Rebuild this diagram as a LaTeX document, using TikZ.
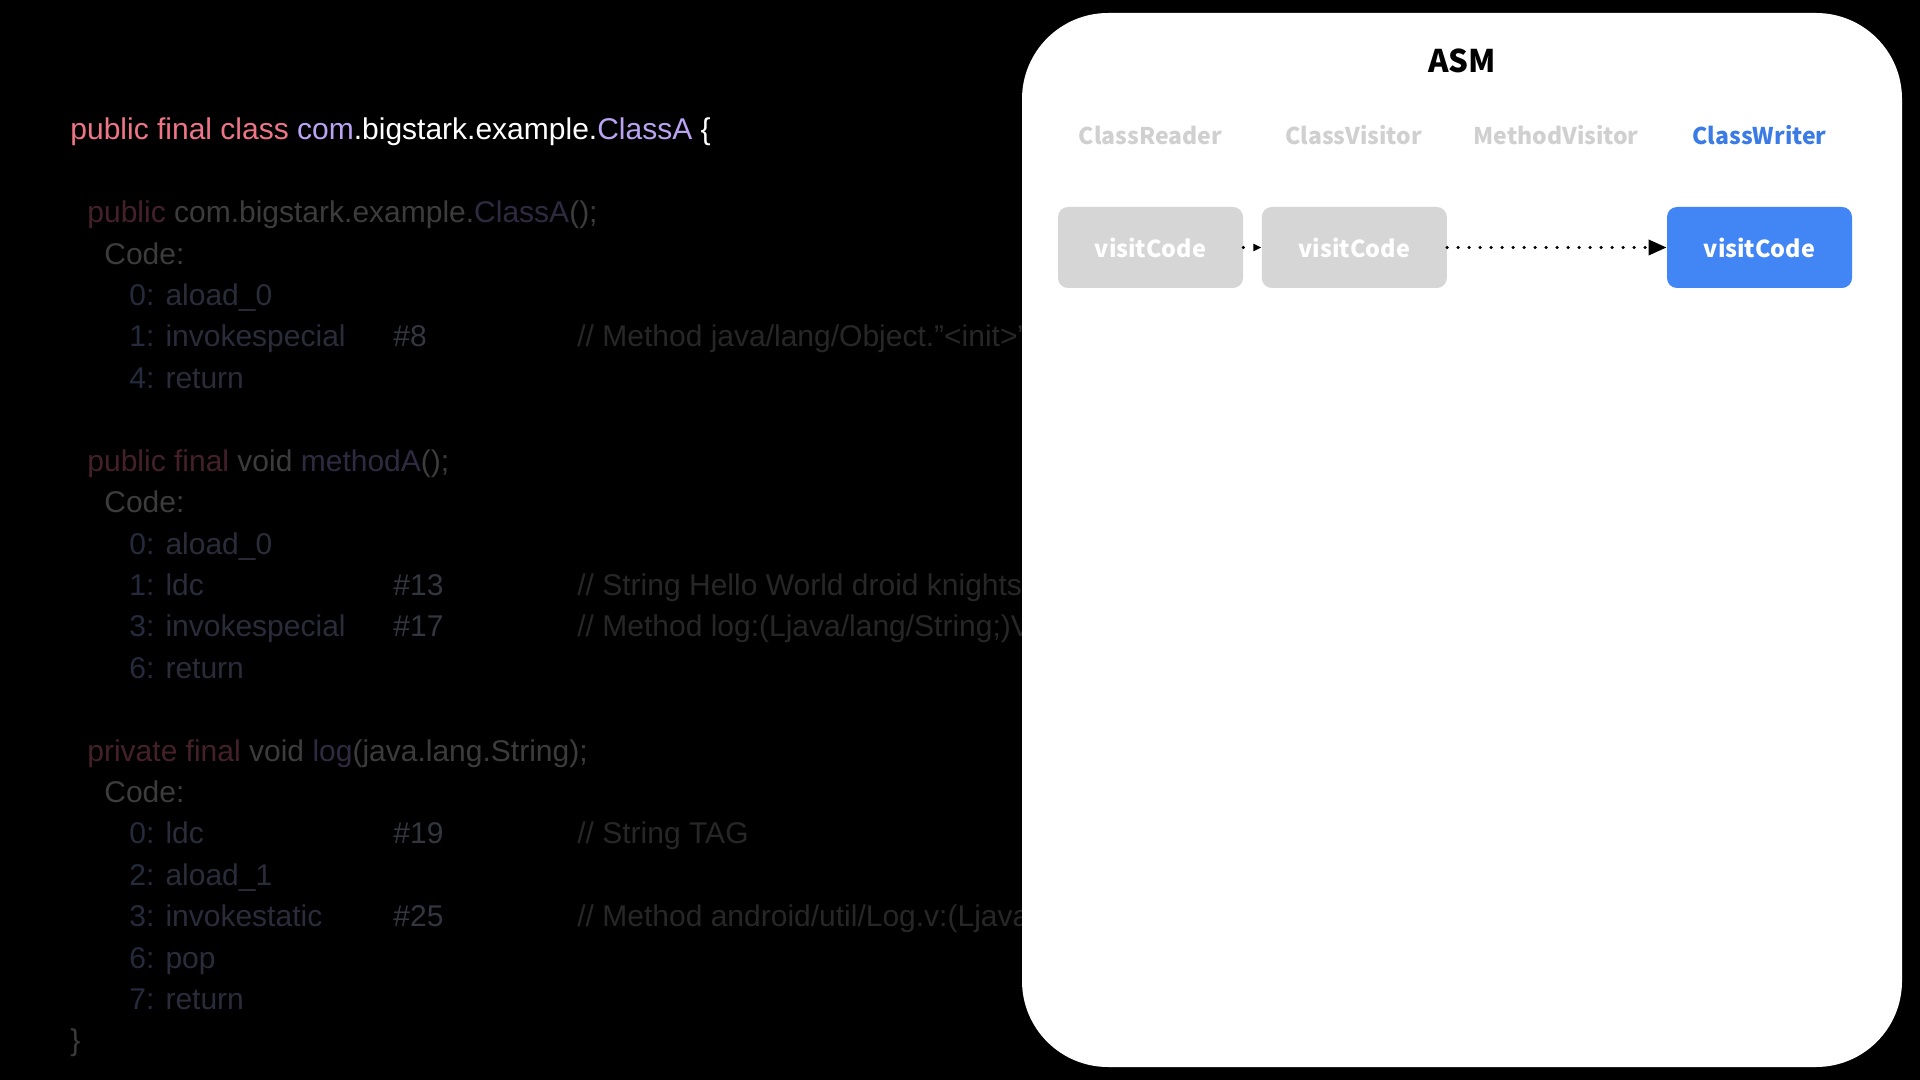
\documentclass[tikz,border=0pt]{standalone}
\usepackage{fontspec}
\setmainfont{Liberation Sans}
\newfontfamily\asmfont{Noto Sans CJK SC}
\usetikzlibrary{positioning,arrows.meta}

\definecolor{kwred}{HTML}{EE7585}
\definecolor{typepurple}{HTML}{B9A3F2}
\definecolor{kwdim}{HTML}{44202A}
\definecolor{txtdim}{HTML}{3C3C3C}
\definecolor{typedim}{HTML}{302A40}
\definecolor{numdim}{HTML}{252B3C}
\definecolor{opdim}{HTML}{2A2C3A}
\definecolor{refdim}{HTML}{33363F}
\definecolor{cmtdim}{HTML}{272727}
\definecolor{boxgray}{HTML}{D6D6D6}
\definecolor{headgray}{HTML}{D0D0D0}
\definecolor{asmblue}{HTML}{4285F4}
\definecolor{headblue}{HTML}{3B7BE6}

\tikzset{
  code/.style={anchor=base west, inner sep=0pt, font=\fontsize{15}{18}\selectfont},
  head/.style={font=\asmfont\bfseries\fontsize{11.5}{14}\selectfont, inner sep=0pt},
  visitbox/.style={fill=boxgray, text=white, rounded corners=5pt,
    minimum width=92.5pt, minimum height=40.5pt, inner sep=0pt,
    font=\asmfont\bfseries\fontsize{11.7}{14}\selectfont},
  dotline/.style={line width=1.75pt, line cap=round, dash pattern=on 0pt off 5.5pt}
}

\begin{document}
\begin{tikzpicture}[x=0.5pt,y=-0.5pt]
	\fill[black] (0,0) rectangle (1920,1080);
	% bytecode listing
	\node[code] (cls) at (70,140) {\color{kwred}public final class \color{typepurple}com\color{white}.bigstark.example.\color{typepurple}ClassA \color{white}\{};
	\node[code] (ctor) at (87,222.8) {\color{kwdim}public \color{txtdim}com.bigstark.example.\color{typedim}ClassA\color{txtdim}();};
	\node[code,text=txtdim] (ctorcode) at (104,264.2) {Code:};
	\node[code] (c0) at (129,305.6) {\color{numdim}0: \color{opdim}aload\_0};
	\node[code] (c1) at (129,347) {\color{numdim}1: \color{opdim}invokespecial};
	\node[code,text=refdim] (c1ref) at (393,347) {\#8};
	\node[code,text=cmtdim] (c1cmt) at (577,347) {// Method java/lang/Object."<init>":()V};
	\node[code] (c4) at (129,388.4) {\color{numdim}4: \color{opdim}return};

	\node[code] (ma) at (87,471.2) {\color{kwdim}public final \color{txtdim}void \color{typedim}methodA\color{txtdim}();};
	\node[code,text=txtdim] (macode) at (104,512.6) {Code:};
	\node[code] (m0) at (129,554) {\color{numdim}0: \color{opdim}aload\_0};
	\node[code] (m1) at (129,595.4) {\color{numdim}1: \color{opdim}ldc};
	\node[code,text=refdim] (m1ref) at (393,595.4) {\#13};
	\node[code,text=cmtdim] (m1cmt) at (577,595.4) {// String Hello World droid knights};
	\node[code] (m3) at (129,636.8) {\color{numdim}3: \color{opdim}invokespecial};
	\node[code,text=refdim] (m3ref) at (393,636.8) {\#17};
	\node[code,text=cmtdim] (m3cmt) at (577,636.8) {// Method log:(Ljava/lang/String;)V};
	\node[code] (m6) at (129,678.2) {\color{numdim}6: \color{opdim}return};

	\node[code] (lg) at (87,761) {\color{kwdim}private final \color{txtdim}void \color{typedim}log\color{txtdim}(java.lang.String);};
	\node[code,text=txtdim] (lgcode) at (104,802.4) {Code:};
	\node[code] (l0) at (129,843.8) {\color{numdim}0: \color{opdim}ldc};
	\node[code,text=refdim] (l0ref) at (393,843.8) {\#19};
	\node[code,text=cmtdim] (l0cmt) at (577,843.8) {// String TAG};
	\node[code] (l2) at (129,885.2) {\color{numdim}2: \color{opdim}aload\_1};
	\node[code] (l3) at (129,926.6) {\color{numdim}3: \color{opdim}invokestatic};
	\node[code,text=refdim] (l3ref) at (393,926.6) {\#25};
	\node[code,text=cmtdim] (l3cmt) at (577,926.6) {// Method android/util/Log.v:(Ljava/lang/String;)I};
	\node[code] (l6) at (129,968) {\color{numdim}6: \color{opdim}pop};
	\node[code] (l7) at (129,1009.4) {\color{numdim}7: \color{opdim}return};
	\node[code,text=txtdim] (close) at (70,1050.8) {\}};

	% ASM panel
	\fill[white, rounded corners=43pt] (1022,13) rectangle (1902,1067);
	\node[font=\asmfont\bfseries\fontsize{15.6}{18}\selectfont] (asm) at (1462,61) {ASM};

	\node[visitbox] (rdcode) at (1150.5,247.5) {visitCode};
	\node[visitbox, right=9pt of rdcode] (cvcode) {visitCode};
	\node[visitbox, fill=asmblue] (cwcode) at (1759.5,247.5) {visitCode};

	\node[head, text=headgray] (reader) at (1150.5,135) {ClassReader};
	\node[head, text=headgray] (visitor) at (1353.5,135) {ClassVisitor};
	\node[head, text=headgray] (mvisitor) at (1556,135) {MethodVisitor};
	\node[head, text=headblue] (writer) at (1759.5,135) {ClassWriter};

	\draw[dotline, -{Triangle[length=4pt,width=3.5pt]}] (rdcode) -- (cvcode);
	\draw[dotline, -{Triangle[length=9pt,width=7.5pt]}] (cvcode) -- (cwcode);
\end{tikzpicture}
\end{document}
